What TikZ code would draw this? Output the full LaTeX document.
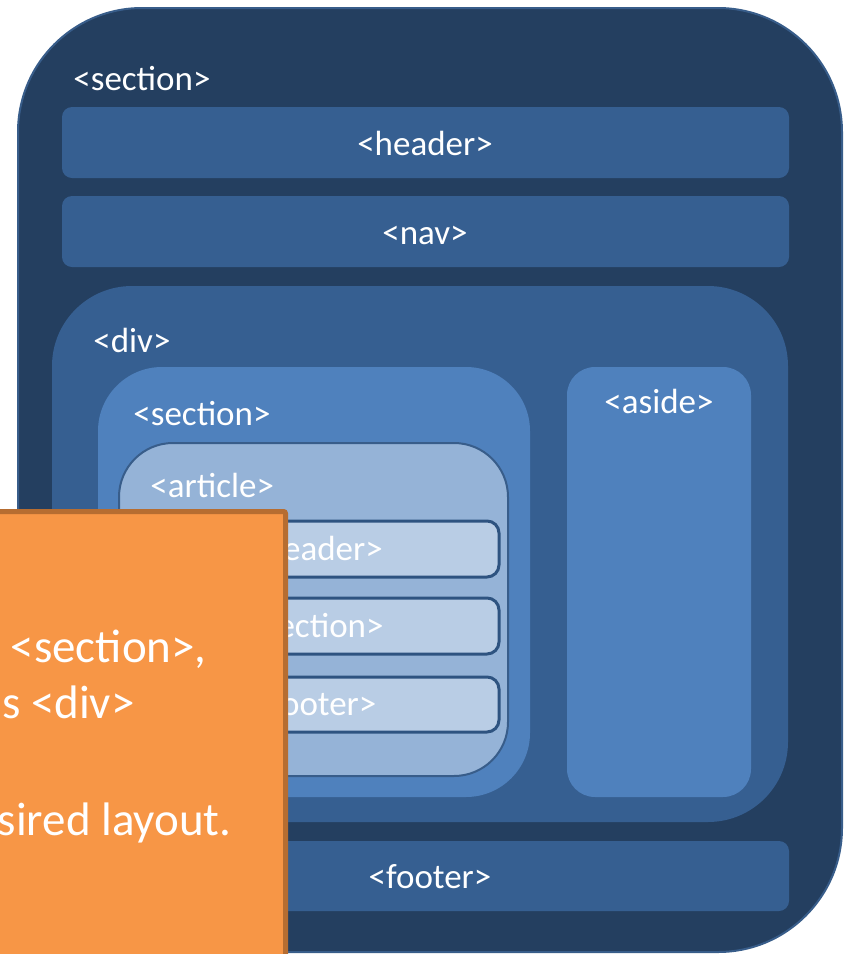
\documentclass[tikz,border=0pt]{standalone}
\usepackage{fontspec}
\setmainfont{Carlito}
\definecolor{navy}{HTML}{243F60}
\definecolor{midblue}{HTML}{365F91}
\definecolor{accblue}{HTML}{4F81BD}
\definecolor{paleblue}{HTML}{95B3D7}
\definecolor{lightblue}{HTML}{B9CDE5}
\definecolor{edgeblue}{HTML}{385D8A}
\definecolor{darkedge}{HTML}{2E5380}
\definecolor{orangefill}{HTML}{F79646}
\definecolor{orangeedge}{HTML}{B66D31}
\tikzset{
  tag/.style={text=white,inner sep=0pt,font=\fontsize{17.5}{21}\selectfont},
  note/.style={text=white,inner sep=0pt,font=\fontsize{23.5}{28}\selectfont},
  bar/.style={fill=midblue,rounded corners=5pt},
  inbox/.style={fill=lightblue,draw=darkedge,line width=1.5pt,rounded corners=6pt}
}

\begin{document}
\begin{tikzpicture}[x=0.5pt,y=-0.5pt]
\useasboundingbox (0,0) rectangle (844,954);
\draw[fill=navy,draw=edgeblue,line width=1pt,rounded corners=62pt] (18,8) rectangle (842,952);
\node[tag,anchor=base west] (outertag) at (73,90) {<section>};
\fill[bar] (62,107) rectangle (789,178);
\node[tag,anchor=base] (headtag) at (425,155) {<header>};
\fill[bar] (62,196) rectangle (789,267);
\node[tag,anchor=base] (navtag) at (425,244) {<nav>};
\fill[midblue,rounded corners=40pt] (52,286) rectangle (788,822);
\node[tag,anchor=base west] (divtag) at (93,352) {<div>};
\fill[accblue,rounded corners=32pt] (98,367) rectangle (530,797);
\node[tag,anchor=base west] (secttag) at (133,425) {<section>};
\fill[accblue,rounded corners=14pt] (567,367) rectangle (751,797);
\node[tag,anchor=base] (asidetag) at (659,413) {<aside>};
\draw[fill=paleblue,draw=edgeblue,line width=1pt,rounded corners=27pt] (119,443) rectangle (508,776);
\node[tag,anchor=base west] (arttag) at (150,497) {<article>};
\draw[inbox] (131,521) rectangle (499,577);
\node[tag,anchor=base] (ahead) at (315,560) {<header>};
\draw[inbox] (131,598) rectangle (499,654);
\node[tag,anchor=base] (asect) at (315,637) {<section>};
\draw[inbox] (131,677) rectangle (499,732);
\node[tag,anchor=base] (afoot) at (315,715) {<footer>};
\fill[bar] (62,841) rectangle (789,911);
\node[tag,anchor=base] (foottag) at (430,888) {<footer>};
\draw[fill=orangefill,draw=orangeedge,line width=2.5pt,rounded corners=1pt] (-20,511.5) rectangle (285.5,980);
\node[note,anchor=base east] (lineone) at (207,662) {<section>,};
\node[note,anchor=base east] (linetwo) at (135,718) {s <div>};
\node[note,anchor=base east] (linethree) at (232,835) {sired layout.};
\end{tikzpicture}
\end{document}
